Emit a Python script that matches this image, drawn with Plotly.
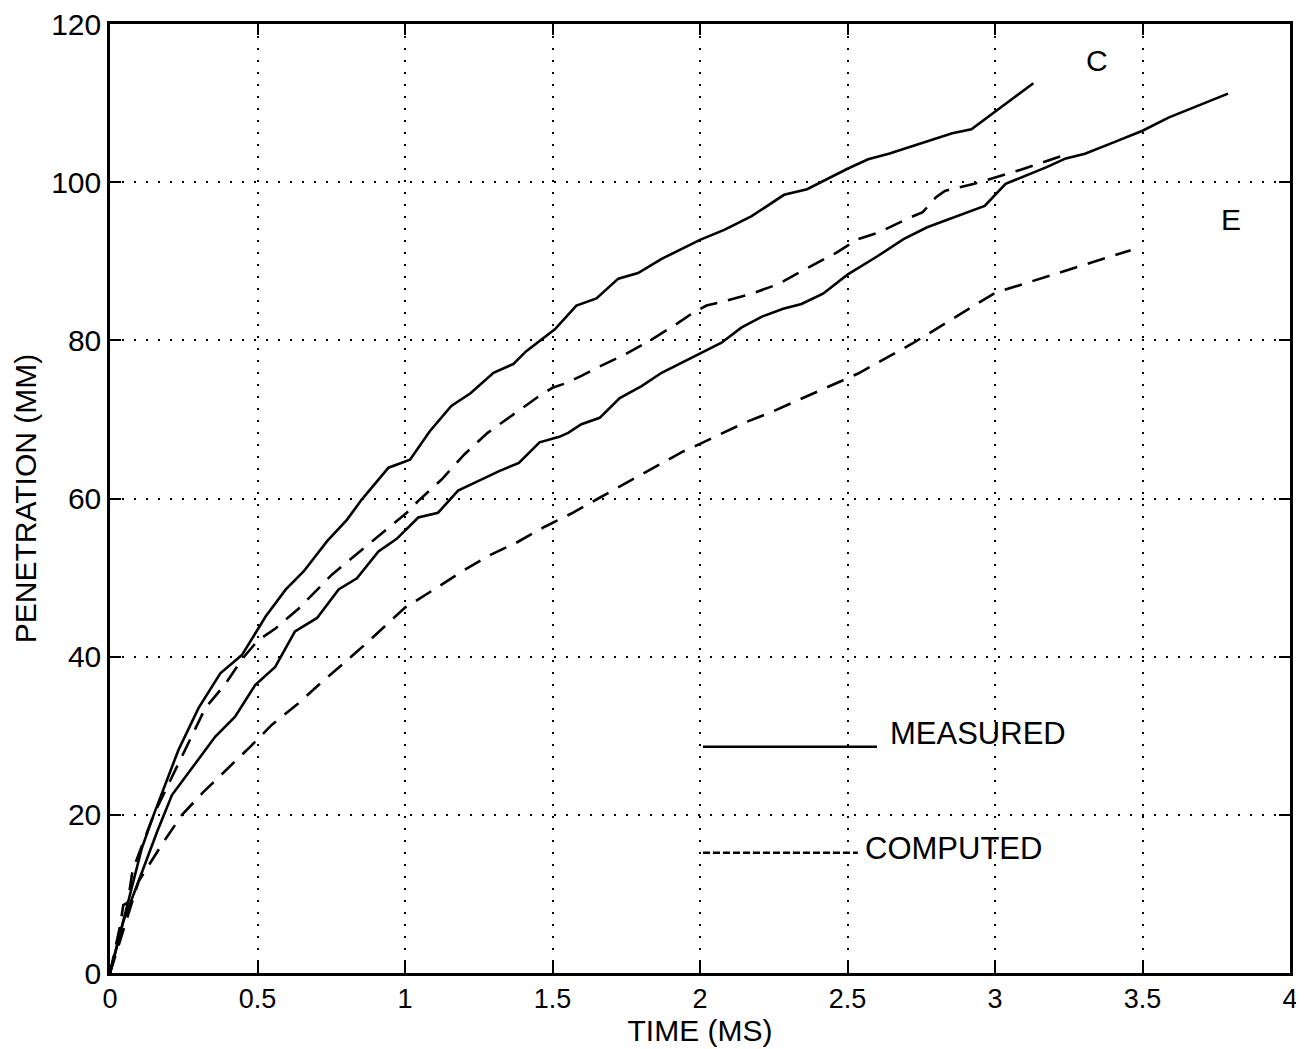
import plotly.graph_objects as go

# ---- data ----
c_meas_t = [0, 0.108, 0.148, 0.187, 0.232, 0.30, 0.374, 0.447, 0.49, 0.528, 0.596, 0.657, 0.736,
            0.803, 0.854, 0.944, 1.017, 1.084, 1.157, 1.222, 1.30, 1.367, 1.41, 1.451, 1.508, 1.581,
            1.649, 1.723, 1.79, 1.87, 2.0, 2.084, 2.175, 2.285, 2.363, 2.5, 2.57, 2.64, 2.855, 2.92, 3.13]
c_meas_y = [0, 15.8, 20.0, 23.8, 28.2, 33.5, 37.9, 40.2, 42.8, 45.1, 48.5, 50.8, 54.6,
            57.3, 59.9, 63.9, 64.9, 68.5, 71.7, 73.3, 75.9, 77.0, 78.6, 79.8, 81.4, 84.4,
            85.3, 87.8, 88.5, 90.3, 92.7, 94.0, 95.7, 98.4, 99.1, 101.7, 102.9, 103.6, 106.2, 106.7, 112.5]

e_meas_t = [0, 0.045, 0.114, 0.16, 0.21, 0.284, 0.357, 0.424, 0.492, 0.56, 0.627, 0.702, 0.775,
            0.837, 0.91, 0.972, 1.045, 1.112, 1.18, 1.253, 1.321, 1.386, 1.456, 1.523, 1.553, 1.598,
            1.66, 1.728, 1.802, 1.87, 2.0, 2.073, 2.14, 2.21, 2.282, 2.344, 2.417, 2.5, 2.6, 2.69,
            2.77, 2.965, 3.036, 3.175, 3.24, 3.305, 3.40, 3.5, 3.59, 3.79]
e_meas_y = [0, 6.5, 13.3, 17.9, 22.5, 26.3, 29.9, 32.4, 36.4, 38.7, 43.2, 44.9, 48.5,
            49.9, 53.3, 54.9, 57.6, 58.2, 61.0, 62.3, 63.5, 64.5, 67.1, 67.8, 68.3, 69.4,
            70.2, 72.7, 74.2, 75.9, 78.3, 79.7, 81.6, 83.0, 84.0, 84.6, 85.9, 88.3, 90.6, 92.8,
            94.3, 97.0, 99.8, 101.9, 103.0, 103.6, 105.0, 106.5, 108.2, 111.2]

c_comp_t = [0, 0.035, 0.045, 0.06, 0.075, 0.085, 0.148, 0.205, 0.256, 0.323, 0.39, 0.45, 0.5, 0.562,
            0.64, 0.753, 0.798, 0.882, 0.966, 1.006, 1.045, 1.124, 1.202, 1.28, 1.37, 1.449, 1.5,
            1.547, 1.598, 1.649, 1.745, 1.836, 1.926, 1.977, 2.022, 2.067, 2.175, 2.265, 2.367,
            2.463, 2.536, 2.61, 2.71, 2.755, 2.80, 2.83, 2.93, 3.0, 3.09, 3.25]
c_comp_y = [0, 6.1, 8.6, 8.9, 12.6, 13.8, 20.0, 24.4, 28.4, 33.5, 36.5, 39.8, 42.0, 43.6,
            46.1, 50.4, 51.8, 54.4, 56.9, 58.2, 59.7, 62.4, 65.6, 68.3, 70.7, 72.8, 74.0,
            74.6, 75.5, 76.5, 78.2, 80.1, 82.2, 83.5, 84.4, 84.8, 85.9, 87.1, 89.2,
            91.1, 92.8, 93.7, 95.5, 96.2, 98.1, 98.9, 99.8, 100.6, 101.6, 103.6]

e_comp_t = [0, 0.05, 0.097, 0.182, 0.244, 0.317, 0.396, 0.475, 0.549, 0.639, 0.718, 0.8, 0.881,
            0.96, 1.0, 1.09, 1.19, 1.28, 1.382, 1.472, 1.564, 1.655, 1.75, 1.846, 1.94, 2.0,
            2.08, 2.152, 2.24, 2.338, 2.44, 2.536, 2.72, 3.0, 3.46]
e_comp_y = [0, 6.0, 11.6, 16.6, 20.0, 22.9, 25.7, 28.6, 31.4, 34.1, 36.8, 39.4, 42.1,
            44.9, 46.2, 48.3, 50.7, 52.7, 54.5, 56.4, 58.1, 60.0, 62.0, 64.0, 65.9, 66.9,
            68.3, 69.6, 70.9, 72.5, 74.2, 75.8, 79.6, 86.0, 91.4]

x_ticks = [0, 0.5, 1, 1.5, 2, 2.5, 3, 3.5, 4]
x_ticktext = ["0", "0.5", "1", "1.5", "2", "2.5", "3", "3.5", "4"]
y_ticks = [0, 20, 40, 60, 80, 100, 120]

curve_labels = ["C", "E"]
curve_label_pos = [(3.345, 115.4), (3.80, 95.3)]

legend_names = ["MEASURED", "COMPUTED"]
legend_line_t = [(2.01, 2.60), (2.01, 2.535)]
legend_line_y = [28.6, 15.2]
legend_text_pos = [(2.637, 30.3), (2.553, 15.8)]

FONT = "Liberation Sans, Arial, Helvetica, sans-serif"
LW = 2.6
DASH = "18px,11px"

fig = go.Figure()
fig.add_trace(go.Scatter(x=c_meas_t, y=c_meas_y, mode="lines",
                         line=dict(color="black", width=LW), showlegend=False))
fig.add_trace(go.Scatter(x=e_meas_t, y=e_meas_y, mode="lines",
                         line=dict(color="black", width=LW), showlegend=False))
fig.add_trace(go.Scatter(x=c_comp_t, y=c_comp_y, mode="lines",
                         line=dict(color="black", width=LW, dash=DASH), showlegend=False))
fig.add_trace(go.Scatter(x=e_comp_t, y=e_comp_y, mode="lines",
                         line=dict(color="black", width=LW, dash=DASH), showlegend=False))

# hand-drawn style key
legend_dash = ["solid", "7px,3px"]
for name, (t0, t1), ly, (tx, ty), dsh in zip(legend_names, legend_line_t, legend_line_y,
                                               legend_text_pos, legend_dash):
    fig.add_trace(go.Scatter(x=[t0, t1], y=[ly, ly], mode="lines",
                             line=dict(color="black", width=LW, dash=dsh), showlegend=False))
    fig.add_annotation(x=tx, y=ty, text=name, showarrow=False, xanchor="left", yanchor="middle",
                       font=dict(family=FONT, size=31, color="black"))

for lab, (lx, ly) in zip(curve_labels, curve_label_pos):
    fig.add_annotation(x=lx, y=ly, text=lab, showarrow=False, xanchor="center", yanchor="middle",
                       font=dict(family=FONT, size=30, color="black"))

axis_common = dict(showline=True, linecolor="black", linewidth=2.5, mirror="ticks",
                   ticks="inside", ticklen=11, tickwidth=2, tickcolor="black",
                   showgrid=True, gridcolor="black", gridwidth=1.8, griddash="2px,10px",
                   zeroline=False, automargin=False, ticklabeloverflow="allow")

# the page adds an 8px body margin, so the figure is sized 8px smaller
fig.update_layout(
    width=1296, height=1041,
    margin=dict(l=102, r=14, t=16, b=76),
    paper_bgcolor="white", plot_bgcolor="white",
    font=dict(family=FONT, color="black"),
    xaxis=dict(range=[0, 4], tickvals=x_ticks, ticktext=x_ticktext,
               tickfont=dict(family=FONT, size=27),
               title=dict(text="TIME (MS)", font=dict(family=FONT, size=30), standoff=0),
               **axis_common),
    yaxis=dict(range=[0, 120], tickvals=y_ticks,
               tickfont=dict(family=FONT, size=30),
               title=dict(text="PENETRATION (MM)", font=dict(family=FONT, size=30), standoff=6),
               **axis_common),
)

fig.write_html("out.html")
